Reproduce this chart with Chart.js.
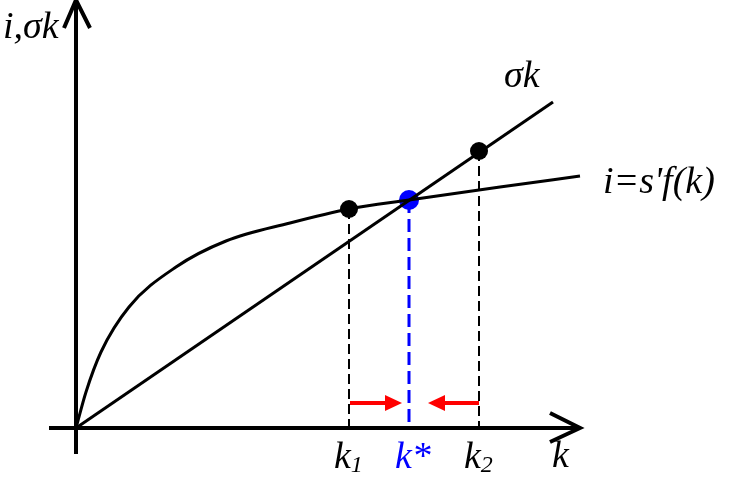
<!DOCTYPE html>
<html>
<head>
<meta charset="utf-8">
<script src="https://cdn.jsdelivr.net/npm/chart.js@4/dist/chart.umd.min.js"></script>
<style>
  html, body { margin: 0; padding: 0; background: #fff; }
  #wrap { width: 730px; height: 478px; position: relative; }
</style>
</head>
<body>
<div id="wrap"><canvas id="c"></canvas></div>
<script>
// curve i = s'f(k)
const curveK = [0, 1.0, 2.5, 5.3, 10.0, 15.0, 21.4, 27.3, 33.3, 42.4, 50.4];
const curveI = [0, 3.6, 7.6, 12.1, 16.1, 18.7, 20.5, 21.9, 22.8, 24.1, 25.2];

// straight line sigma*k
const lineK = [0, 47.7];
const lineY = [0, 32.6];

// k1, k*, k2 and the heights of their dots
const markK = [27.3, 33.3, 40.3];
const markY = [21.9, 22.8, 27.7];
const markLabels = ['k', 'k*', 'k'];
const markSubs = ['1', '', '2'];

// red arrows [from, to] at height arrowY
const arrowY = 2.5;
const arrows = [[27.4, 32.6], [40.3, 35.2]];

const axisEndK = 50.4;
const axisEndY = 42.8;

const FONT = 'italic 38px "Liberation Serif", "DejaVu Serif", serif';

function toPts(xs, ys) {
    return xs.map((x, i) => ({ x: x, y: ys[i] }));
}

const drawExtras = {
    id: 'drawExtras',
    beforeDatasetsDraw(chart) {
        const ctx = chart.ctx;
        const sx = chart.scales.x, sy = chart.scales.y;
        const px = v => sx.getPixelForValue(v);
        const py = v => sy.getPixelForValue(v);
        ctx.save();
        ctx.strokeStyle = '#000';
        ctx.lineWidth = 4;
        ctx.lineCap = 'butt';
        // axes
        ctx.beginPath();
        ctx.moveTo(px(-2.7), py(0));
        ctx.lineTo(px(axisEndK), py(0));
        ctx.moveTo(px(0), py(-2.6));
        ctx.lineTo(px(0), py(axisEndY));
        ctx.stroke();
        // axis arrowheads
        ctx.beginPath();
        ctx.moveTo(px(-1.2), py(axisEndY - 2.8));
        ctx.lineTo(px(0), py(axisEndY));
        ctx.lineTo(px(1.4), py(axisEndY - 2.8));
        ctx.moveTo(px(axisEndK - 3.0), py(1.5));
        ctx.lineTo(px(axisEndK), py(0));
        ctx.lineTo(px(axisEndK - 3.0), py(-1.4));
        ctx.stroke();

        // dashed drop lines
        markK.forEach((k, i) => {
            ctx.beginPath();
            ctx.strokeStyle = i === 1 ? '#0000ff' : '#000';
            ctx.lineWidth = i === 1 ? 3 : 2;
            ctx.setLineDash(i === 1 ? [13, 6] : [10, 5]);
            ctx.moveTo(px(k), py(markY[i]));
            ctx.lineTo(px(k), py(0));
            ctx.stroke();
        });
        ctx.setLineDash([]);

        // red arrows
        ctx.strokeStyle = '#ff0000';
        ctx.fillStyle = '#ff0000';
        ctx.lineWidth = 4;
        arrows.forEach(a => {
            const dir = Math.sign(a[1] - a[0]);
            const x0 = px(a[0]), x1 = px(a[1]), y = py(arrowY);
            ctx.beginPath();
            ctx.moveTo(x0, y);
            ctx.lineTo(x1 - dir * 14, y);
            ctx.stroke();
            ctx.beginPath();
            ctx.moveTo(x1, y);
            ctx.lineTo(x1 - dir * 17, y - 8);
            ctx.lineTo(x1 - dir * 17, y + 8);
            ctx.closePath();
            ctx.fill();
        });
        ctx.restore();
    },
    afterDatasetsDraw(chart) {
        const ctx = chart.ctx;
        const sx = chart.scales.x;
        ctx.save();
        ctx.textBaseline = 'alphabetic';
        ctx.fillStyle = '#000';
        ctx.font = FONT;
        ctx.textAlign = 'left';
        ctx.fillText('i,\u03c3k', 3, 38);
        ctx.fillText('\u03c3k', 504, 87);
        ctx.fillText("i=s'f(k)", 603, 193);
        ctx.fillText('k', 552, 467);
        markK.forEach((k, i) => {
            const x = sx.getPixelForValue(k);
            ctx.fillStyle = i === 1 ? '#0000ff' : '#000';
            ctx.font = FONT;
            const w = ctx.measureText(markLabels[i]).width;
            const left = i === 1 ? x - 14 : x - 15;
            ctx.fillText(markLabels[i], left, 468);
            if (markSubs[i]) {
                ctx.font = 'italic 24px "Liberation Serif", "DejaVu Serif", serif';
                ctx.fillText(markSubs[i], left + w, 472);
            }
        });
        ctx.restore();
    }
};

new Chart(document.getElementById('c'), {
    type: 'scatter',
    data: {
        datasets: [
            {
                data: toPts(lineK, lineY),
                showLine: true,
                borderColor: '#000',
                borderWidth: 3,
                pointRadius: 0
            },
            {
                data: toPts(curveK, curveI),
                showLine: true,
                borderColor: '#000',
                borderWidth: 3,
                pointRadius: 0,
                cubicInterpolationMode: 'monotone'
            },
            {
                data: toPts(markK, markY),
                showLine: false,
                pointRadius: [9, 10, 9],
                pointBackgroundColor: ['#000', '#0000ff', '#000'],
                pointBorderWidth: 0,
                borderColor: 'rgba(0,0,0,0)'
            }
        ]
    },
    options: {
        responsive: true,
        maintainAspectRatio: false,
        animation: false,
        layout: { padding: 0, autoPadding: false },
        plugins: {
            legend: { display: false },
            tooltip: { enabled: false }
        },
        scales: {
            x: { type: 'linear', min: -7.6, max: 65.4, display: false },
            y: { type: 'linear', min: -5, max: 42.8, display: false }
        }
    },
    plugins: [drawExtras]
});
</script>
</body>
</html>
